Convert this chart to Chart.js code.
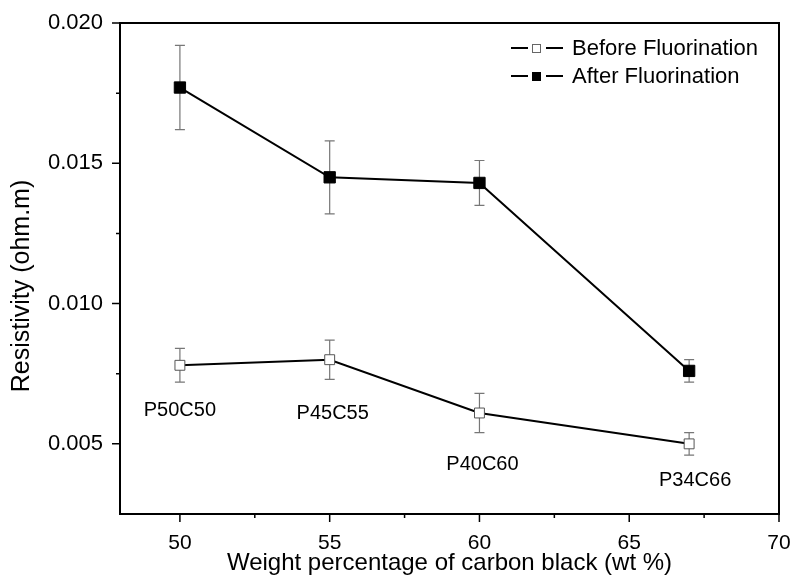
<!DOCTYPE html>
<html lang="en">
<head>
<meta charset="UTF-8">
<title>Resistivity vs carbon black</title>
<style>
body { margin: 0; background: #fff; }
#wrap { width: 793px; height: 578px; }
</style>
</head>
<body>
<div id="wrap"><canvas id="chart" width="793" height="578"></canvas></div>
<script src="https://cdn.jsdelivr.net/npm/chart.js@4.4.1/dist/chart.umd.min.js"></script>
<script>
// values
const weightPct = [50, 55, 60, 67];
const beforeVals = [0.0078, 0.0080, 0.0061, 0.0050];
const beforeErr = [0.0006, 0.0007, 0.0007, 0.0004];
const afterVals = [0.0177, 0.0145, 0.0143, 0.0076];
const afterErr = [0.0015, 0.0013, 0.0008, 0.0004];
const xTicks = [50, 55, 60, 65, 70];
const xMinor = [52.5, 57.5, 62.5, 67.5];
const yTicks = [0.005, 0.010, 0.015, 0.020];
const yMinor = [0.0075, 0.0125, 0.0175];
const sampleNames = ['P50C50', 'P45C55', 'P40C60', 'P34C66'];
const sampleX = [50, 55.1, 60.1, 67.2];
const sampleY = [0.0062, 0.0061, 0.00425, 0.0037];

const FONT = '"Liberation Sans", Arial, sans-serif';

const pts = (xs, ys) => xs.map((x, i) => ({ x: x, y: ys[i] }));

const errorBars = {
  id: 'errorBars',
  beforeDatasetsDraw(chart) {
    const { ctx, scales: { x, y } } = chart;
    const sets = [[beforeVals, beforeErr], [afterVals, afterErr]];
    ctx.save();
    ctx.strokeStyle = '#777';
    ctx.lineWidth = 1.2;
    sets.forEach(([vals, errs]) => {
      vals.forEach((v, i) => {
        const px = x.getPixelForValue(weightPct[i]);
        const top = y.getPixelForValue(v + errs[i]);
        const bot = y.getPixelForValue(v - errs[i]);
        ctx.beginPath();
        ctx.moveTo(px, top); ctx.lineTo(px, bot);
        ctx.moveTo(px - 5, top); ctx.lineTo(px + 5, top);
        ctx.moveTo(px - 5, bot); ctx.lineTo(px + 5, bot);
        ctx.stroke();
      });
    });
    ctx.restore();
  }
};

const frame = {
  id: 'frame',
  afterDraw(chart) {
    const { ctx, chartArea: a, scales: { x, y } } = chart;
    ctx.save();
    ctx.strokeStyle = '#000';
    ctx.lineWidth = 2;
    ctx.strokeRect(a.left, a.top, a.right - a.left, a.bottom - a.top);
    ctx.beginPath();
    xTicks.forEach(v => { const p = x.getPixelForValue(v); ctx.moveTo(p, a.bottom); ctx.lineTo(p, a.bottom + 8); });
    xMinor.forEach(v => { const p = x.getPixelForValue(v); ctx.moveTo(p, a.bottom); ctx.lineTo(p, a.bottom + 4); });
    yTicks.forEach(v => { const p = y.getPixelForValue(v); ctx.moveTo(a.left, p); ctx.lineTo(a.left - 8, p); });
    yMinor.forEach(v => { const p = y.getPixelForValue(v); ctx.moveTo(a.left, p); ctx.lineTo(a.left - 4, p); });
    ctx.lineWidth = 1.5;
    ctx.stroke();

    ctx.fillStyle = '#000';
    // y axis title (sits a bit below the plot centre in the original)
    ctx.save();
    ctx.translate(22, 286);
    ctx.rotate(-Math.PI / 2);
    ctx.font = '25px ' + FONT;
    ctx.textAlign = 'center';
    ctx.textBaseline = 'middle';
    ctx.fillText('Resistivity (ohm.m)', 0, 0);
    ctx.restore();

    // sample names
    ctx.font = '20px ' + FONT;
    ctx.textAlign = 'center';
    ctx.textBaseline = 'middle';
    sampleNames.forEach((s, i) => {
      ctx.fillText(s, x.getPixelForValue(sampleX[i]), y.getPixelForValue(sampleY[i]));
    });

    // legend
    const rows = [
      { label: 'Before Fluorination', fill: '#fff', stroke: '#666' },
      { label: 'After Fluorination', fill: '#000', stroke: '#000' }
    ];
    ctx.font = '22px ' + FONT;
    ctx.textAlign = 'left';
    rows.forEach((r, i) => {
      const cy = 48 + i * 28;
      ctx.strokeStyle = '#000';
      ctx.lineWidth = 2;
      ctx.beginPath();
      ctx.moveTo(511, cy); ctx.lineTo(528, cy);
      ctx.moveTo(546, cy); ctx.lineTo(563, cy);
      ctx.stroke();
      ctx.fillStyle = r.fill;
      ctx.fillRect(532, cy - 4, 9, 9);
      ctx.strokeStyle = r.stroke;
      ctx.lineWidth = 1;
      ctx.strokeRect(532.5, cy - 3.5, 8, 8);
      ctx.fillStyle = '#000';
      ctx.fillText(r.label, 572, cy + 1);
    });
    ctx.restore();
  }
};

new Chart(document.getElementById('chart'), {
  type: 'line',
  data: {
    datasets: [
      {
        label: 'Before Fluorination',
        data: pts(weightPct, beforeVals),
        borderColor: '#000', borderWidth: 2,
        pointStyle: 'rect', pointRadius: 7, pointBorderWidth: 1,
        pointBackgroundColor: '#fff', pointBorderColor: '#555',
        tension: 0
      },
      {
        label: 'After Fluorination',
        data: pts(weightPct, afterVals),
        borderColor: '#000', borderWidth: 2,
        pointStyle: 'rect', pointRadius: 8, pointBorderWidth: 1,
        pointBackgroundColor: '#000', pointBorderColor: '#000',
        tension: 0
      }
    ]
  },
  options: {
    responsive: false,
    animation: false,
    devicePixelRatio: 1,
    layout: { padding: { top: 23, right: 14, left: 0, bottom: 0 } },
    plugins: { legend: { display: false }, tooltip: { enabled: false } },
    scales: {
      x: {
        type: 'linear', min: 48, max: 70,
        grid: { display: true, drawOnChartArea: false, drawTicks: true, tickLength: 17, tickColor: 'rgba(0,0,0,0)' },
        border: { display: false },
        afterBuildTicks: s => { s.ticks = xTicks.map(v => ({ value: v })); },
        afterFit: s => { s.height = 64; },
        ticks: { color: '#000', padding: 0, font: { family: FONT, size: 21 } },
        title: { display: true, text: 'Weight percentage of carbon black (wt %)', color: '#000',
          font: { family: FONT, size: 24 }, padding: { top: 0, bottom: 0 } }
      },
      y: {
        type: 'linear', min: 0.0025, max: 0.020,
        grid: { display: true, drawOnChartArea: false, drawTicks: true, tickLength: 17, tickColor: 'rgba(0,0,0,0)' },
        border: { display: false },
        afterBuildTicks: s => { s.ticks = yTicks.map(v => ({ value: v })); },
        afterFit: s => { s.width = 120; },
        ticks: { color: '#000', padding: 0, font: { family: FONT, size: 22 },
          callback: v => v.toFixed(3) },
        title: { display: false }
      }
    }
  },
  plugins: [errorBars, frame]
});
</script>
</body>
</html>
